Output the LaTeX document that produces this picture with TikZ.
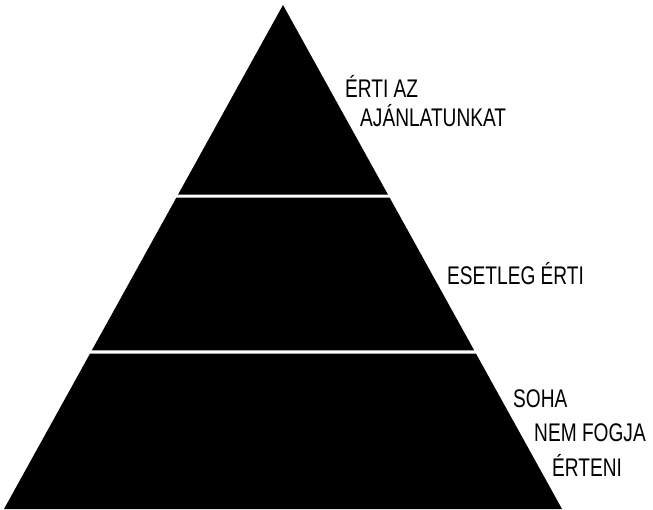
\documentclass[tikz,border=0pt]{standalone}
\usepackage{fontspec}
\setmainfont{Liberation Sans}[FakeStretch=0.75]
\usetikzlibrary{calc}
\begin{document}
\begin{tikzpicture}[x=1pt,y=-1pt,
  tier/.style={fill=black,draw=none},
  lbl/.style={anchor=base west,inner sep=0pt,font=\fontsize{25.5}{28}\selectfont}]
\useasboundingbox (0,0) rectangle (653,510);
\coordinate (apex) at (283,5);
\coordinate (bl) at (4,509);
\coordinate (br) at (562,509);
% top tier
\fill[tier] (apex) -- ($(apex)!0.376!(br)$) -- ($(apex)!0.376!(bl)$) -- cycle;
% middle tier
\fill[tier] ($(apex)!0.382!(bl)$) -- ($(apex)!0.382!(br)$) -- ($(apex)!0.6855!(br)$) -- ($(apex)!0.6855!(bl)$) -- cycle;
% bottom tier
\fill[tier] ($(apex)!0.6915!(bl)$) -- ($(apex)!0.6915!(br)$) -- (br) -- (bl) -- cycle;
% labels
\node[lbl] (t1a) at (345,98) {ÉRTI AZ};
\node[lbl] (t1b) at (360,127) {AJÁNLATUNKAT};
\node[lbl] (t2) at (447,285) {ESETLEG ÉRTI};
\node[lbl] (t3a) at (513,407) {SOHA};
\node[lbl] (t3b) at (534,441) {NEM FOGJA};
\node[lbl] (t3c) at (552,476) {ÉRTENI};
\end{tikzpicture}
\end{document}
